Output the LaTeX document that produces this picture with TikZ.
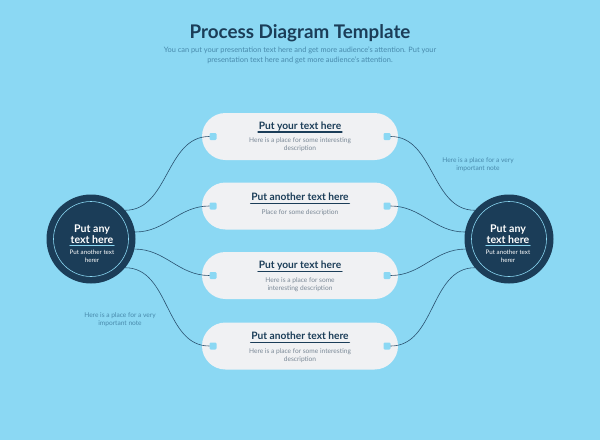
\documentclass[tikz,border=0pt]{standalone}
\usepackage{fontspec}
\setmainfont{Lato}
\usetikzlibrary{positioning}
\definecolor{bgblue}{RGB}{139,216,243}
\definecolor{navy}{RGB}{27,61,88}
\definecolor{wireblue}{RGB}{42,82,112}
\definecolor{pillgray}{RGB}{240,241,243}
\definecolor{descgray}{RGB}{122,136,150}
\definecolor{noteblue}{RGB}{72,138,172}

\tikzset{
  pill/.style={fill=pillgray,rounded corners=23.5pt,minimum width=196pt,minimum height=47pt,inner sep=0pt},
  port/.style={fill=bgblue,rounded corners=1.2pt,minimum size=7pt,inner sep=0pt},
  hub/.style={circle,fill=navy,minimum size=89pt,inner sep=0pt},
  ring/.style={circle,draw=bgblue,line width=0.6pt,minimum size=75pt,inner sep=0pt},
  wire/.style={wireblue,line width=0.6pt},
  ptitle/.style={font=\bfseries\fontsize{10.2}{11}\selectfont,text=navy,inner sep=0.6pt,text depth=1.8pt},
  pdesc/.style={font=\fontsize{6.6}{7.4}\selectfont,text=descgray,align=center},
  htitle/.style={font=\bfseries\fontsize{10.6}{11}\selectfont,text=white,inner sep=0.6pt,text depth=1.6pt},
  hdesc/.style={font=\fontsize{6.2}{8.4}\selectfont,text=white,align=center},
  note/.style={font=\fontsize{6.6}{8}\selectfont,text=noteblue,align=center},
  sub/.style={font=\fontsize{7.4}{10}\selectfont,text=noteblue,align=center}
}

\begin{document}
\begin{tikzpicture}[line cap=round,line join=round,x=1pt,y=-1pt]
\fill[bgblue] (0,0) rectangle (600,440);
\useasboundingbox (0,0) rectangle (600,440);
\node[font=\bfseries\fontsize{18.8}{22}\selectfont,text=navy,anchor=base] (title) at (300,38.5) {Process Diagram Template};
\node[sub] (subtitle) at (300,55.5) {You can put your presentation text here and get more audience's attention. Put your\\presentation text here and get more audience's attention.};
% steps
\foreach \n/\y/\ty/\dy/\t/\d in {
  1/136.5/126.5/144.5/{Put your text here}/{Here is a place for some interesting\\description},
  2/206/198/213/{Put another text here}/{Place for some description},
  3/275.5/266/284.5/{Put your text here}/{Here is a place for some\\interesting description},
  4/346/337/355.5/{Put another text here}/{Here is a place for some interesting\\description}}
{
  \node[pill] (p\n) at (300,\y) {};
  \node[ptitle] (t\n) at (300,\ty) {\t};
  \draw[navy,line width=1.1pt] (t\n.south west) -- (t\n.south east);
  \node[pdesc] (d\n) at (300,\dy) {\d};
  \node[port,right=7.5pt of p\n.west] (l\n) {};
  \node[port,left=7.5pt of p\n.east] (r\n) {};
}
% hubs
\node[hub] (lh) at (91,239) {};
\node[ring] (lhr) at (lh) {};
\node[htitle] (lh1) at (92,229.5) {Put any};
\node[htitle] (lh2) at (92,240) {text here};
\draw[bgblue,line width=0.9pt] (lh2.south west) -- (lh2.south east);
\node[hdesc] (lh3) at (92,256.5) {Put another text\\herer};
\node[hub] (rh) at (509,239) {};
\node[ring] (rhr) at (rh) {};
\node[htitle] (rh1) at (508,229.5) {Put any};
\node[htitle] (rh2) at (508,240) {text here};
\draw[bgblue,line width=0.9pt] (rh2.south west) -- (rh2.south east);
\node[hdesc] (rh3) at (508,256.5) {Put another text\\herer};
% wires
\draw[wire] (lh.40) to[out=0,in=180] (l1);
\draw[wire] (lh.9) to[out=0,in=180] (l2);
\draw[wire] (lh.-13) to[out=0,in=180] (l3);
\draw[wire] (lh.-40) to[out=0,in=180] (l4);
\draw[wire] (r1) to[out=0,in=180] (rh.140);
\draw[wire] (r2) to[out=0,in=180] (rh.171);
\draw[wire] (r3) to[out=0,in=180] (rh.193);
\draw[wire] (r4) to[out=0,in=180] (rh.220);
% notes
\node[note] (n1) at (478,165) {Here is a place for a very\\important note};
\node[note] (n2) at (120,320) {Here is a place for a very\\important note};
\end{tikzpicture}
\end{document}
